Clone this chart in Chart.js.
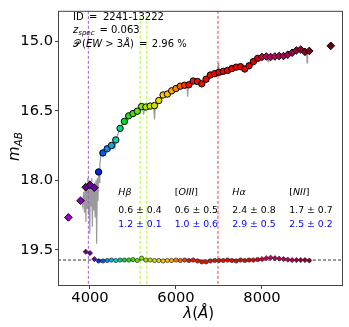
<!DOCTYPE html>
<html>
<head>
<meta charset="utf-8">
<script src="https://cdn.jsdelivr.net/npm/chart.js@4.4.0/dist/chart.umd.min.js"></script>
<style>
  html, body { margin: 0; padding: 0; background: #fff; }
</style>
</head>
<body>
<canvas id="chart" width="349" height="327"></canvas>
<script>
// photometry, wavelength (A) and AB magnitude
const lam = [3497, 3780, 3900, 4000, 4100, 4200, 4300, 4400, 4500, 4600,
  4700, 4800, 4900, 5000, 5100, 5200, 5300, 5400, 5500, 5600,
  5700, 5800, 5900, 6000, 6100, 6200, 6300, 6400, 6500, 6600,
  6700, 6800, 6900, 7000, 7100, 7200, 7300, 7400, 7500, 7600,
  7700, 7800, 7900, 8000, 8100, 8200, 8300, 8400, 8500, 8600,
  8700, 8800, 8900, 9000, 9100, 9600];
const mag = [18.80, 18.44, 18.15, 18.10, 18.16, 17.82, 17.41, 17.32, 17.25, 17.13,
  16.88, 16.73, 16.61, 16.56, 16.51, 16.41, 16.42, 16.40, 16.39, 16.28,
  16.16, 16.14, 16.07, 16.02, 15.97, 15.95, 15.94, 15.86, 15.87, 15.92,
  15.82, 15.73, 15.70, 15.67, 15.65, 15.63, 15.59, 15.56, 15.55, 15.60,
  15.53, 15.44, 15.37, 15.34, 15.33, 15.34, 15.33, 15.32, 15.32, 15.29,
  15.25, 15.20, 15.18, 15.23, 15.21, 15.10];

// lower row (continuum level)
const lamLow = [3900, 4000, 4100, 4200, 4300, 4400, 4500, 4600, 4700, 4800,
  4900, 5000, 5100, 5200, 5300, 5400, 5500, 5600, 5700, 5800,
  5900, 6000, 6100, 6200, 6300, 6400, 6500, 6600, 6700, 6800,
  6900, 7000, 7100, 7200, 7300, 7400, 7500, 7600, 7700, 7800,
  7900, 8000, 8100, 8200, 8300, 8400, 8500, 8600, 8700, 8800,
  8900, 9000, 9100];
const magLow = [19.54, 19.57, 19.70, 19.74, 19.74, 19.73, 19.72, 19.73, 19.72, 19.72,
  19.72, 19.71, 19.73, 19.68, 19.72, 19.72, 19.73, 19.73, 19.74, 19.73,
  19.73, 19.72, 19.73, 19.72, 19.73, 19.72, 19.74, 19.76, 19.76, 19.74,
  19.73, 19.73, 19.73, 19.72, 19.73, 19.74, 19.72, 19.73, 19.72, 19.72,
  19.71, 19.70, 19.68, 19.67, 19.68, 19.69, 19.70, 19.71, 19.72, 19.72,
  19.72, 19.72, 19.73];

// gray spectrum behind the points
const specLam = [3800, 3830, 3850, 3870, 3890, 3905, 3920, 3935, 3950, 3965,
  3980, 3995, 4010, 4025, 4040, 4055, 4070, 4085, 4100, 4120,
  4140, 4155, 4170, 4185, 4200, 4215, 4230, 4250, 4280, 4310,
  4350, 4400, 4450, 4500, 4550, 4580, 4610, 4650, 4700, 4750,
  4800, 4900, 5000, 5100, 5170, 5200, 5250, 5280, 5322, 5400,
  5480, 5500, 5520, 5600, 5700, 5800, 5900, 6000, 6100, 6200,
  6260, 6270, 6290, 6400, 6500, 6600, 6700, 6800, 6900, 6975,
  6985, 6995, 7100, 7200, 7300, 7400, 7500, 7600, 7700, 7800,
  7900, 8000, 8120, 8140, 8160, 8300, 8400, 8500, 8600, 8700,
  8800, 8900, 9000, 9040, 9050, 9060, 9100];
const specMag = [18.40, 18.55, 18.25, 18.70, 18.05, 18.90, 18.10, 18.60, 17.95, 18.75,
  18.00, 19.15, 18.05, 18.55, 17.95, 19.00, 18.10, 18.65, 18.05, 18.80,
  18.00, 19.37, 17.95, 18.45, 17.85, 18.05, 17.65, 17.48, 17.42, 17.38,
  17.36, 17.30, 17.30, 17.24, 17.22, 17.30, 17.10, 17.00, 16.88, 16.80,
  16.73, 16.62, 16.55, 16.50, 16.44, 16.42, 16.56, 16.43, 16.36, 16.41,
  16.40, 16.69, 16.40, 16.28, 16.17, 16.14, 16.07, 16.02, 15.98, 15.95,
  15.96, 16.20, 15.95, 15.87, 15.88, 15.91, 15.82, 15.74, 15.70, 15.66,
  15.47, 15.66, 15.65, 15.63, 15.59, 15.56, 15.56, 15.59, 15.53, 15.44,
  15.38, 15.34, 15.34, 15.44, 15.34, 15.33, 15.32, 15.32, 15.29, 15.25,
  15.20, 15.18, 15.22, 15.23, 15.47, 15.23, 15.21];

// redshifted emission lines: [OII], Hb, [OIII], Ha
const lineLam = [3962, 5167, 5322, 6976];
const lineColors = ['#9a5fd6', '#b4f53a', '#b4f53a', '#f23a3a'];
const baseMag = 19.72;

const xTicks = [4000, 6000, 8000];
const yTicks = [15.0, 16.5, 18.0, 19.5];
const xMin = 3256, xMax = 9884, yMin = 14.345, yMax = 20.28;

const lineNames = [['Hβ'], ['[', 'OIII', ']'], ['Hα'], ['[', 'NII', ']']];
const ewRow1 = ['0.6 ± 0.4', '0.6 ± 0.5', '2.4 ± 0.8', '1.7 ± 0.7'];
const ewRow2 = ['1.2 ± 0.1', '1.0 ± 0.6', '2.9 ± 0.5', '2.5 ± 0.2'];

// colour stops along wavelength
const cStops = [
  [3497, [160, 0, 210]], [3780, [135, 0, 200]], [3900, [100, 0, 140]],
  [4100, [105, 0, 175]], [4200, [0, 40, 230]], [4400, [0, 140, 240]],
  [4600, [0, 210, 200]], [4700, [0, 215, 140]], [4800, [0, 220, 40]],
  [5000, [60, 230, 0]], [5300, [170, 235, 0]], [5500, [215, 225, 0]],
  [5700, [255, 205, 0]], [5900, [255, 170, 0]], [6100, [255, 100, 0]],
  [6300, [240, 20, 0]], [7800, [225, 0, 0]], [8000, [205, 0, 60]],
  [8200, [190, 0, 105]], [8600, [175, 0, 85]], [9100, [130, 0, 25]],
  [9600, [105, 0, 15]]
];
function colorFor(l) {
  for (let i = 0; i < cStops.length - 1; i++) {
    const a = cStops[i], b = cStops[i + 1];
    if (l <= b[0]) {
      const t = Math.max(0, (l - a[0]) / (b[0] - a[0]));
      const c = a[1].map((v, k) => Math.round(v + (b[1][k] - v) * t));
      return 'rgb(' + c.join(',') + ')';
    }
  }
  return 'rgb(' + cStops[cStops.length - 1][1].join(',') + ')';
}
const shapeFor = l => (l < 4200 || l >= 8000) ? 'rectRot' : 'circle';

const vlines = lineLam.map((l, i) => ({
  data: [{x: l, y: yMin}, {x: l, y: yMax}],
  showLine: true, pointRadius: 0, borderColor: lineColors[i],
  borderWidth: 1, borderDash: [3, 2], order: 5
}));

const font = '"DejaVu Sans"';
function put(ctx, parts, x, y, color) {
  let cx = x;
  ctx.fillStyle = color || '#000';
  ctx.textBaseline = 'alphabetic';
  ctx.textAlign = 'left';
  parts.forEach(p => {
    ctx.font = (p.i ? 'italic ' : '') + p.s + 'px ' + font;
    ctx.fillText(p.t, cx, y + (p.dy || 0));
    cx += ctx.measureText(p.t).width;
  });
  return cx;
}

const decor = {
  id: 'decor',
  afterDraw(chart) {
    const ctx = chart.ctx, a = chart.chartArea;
    ctx.save();
    ctx.strokeStyle = '#444';
    ctx.lineWidth = 1;
    ctx.strokeRect(a.left + 0.5, a.top + 0.5, a.right - a.left - 1, a.bottom - a.top - 1);

    // info text
    put(ctx, [{t: 'ID', s: 10}], 73, 20);
    put(ctx, [{t: '=', s: 10}], 89, 20);
    put(ctx, [{t: '2241-13222', s: 10}], 103, 20);
    put(ctx, [{t: 'z', s: 10, i: 1}, {t: 'spec', s: 7, i: 1, dy: 1.5}], 73, 33);
    put(ctx, [{t: '=', s: 10}], 99.5, 33);
    put(ctx, [{t: '0.063', s: 10}], 111, 33);
    put(ctx, [{t: '𝒫', s: 10}], 73, 46.5);
    let ex = put(ctx, [{t: '(', s: 10}, {t: 'EW', s: 10, i: 1}, {t: ' > 3', s: 10}, {t: 'Å', s: 10, i: 1}, {t: ')', s: 10}], 82, 46.5);
    ex = put(ctx, [{t: '=', s: 10}], ex + 5, 46.5);
    ex = put(ctx, [{t: '2.96', s: 10}], ex + 4.5, 46.5);
    put(ctx, [{t: '%', s: 10}], ex + 3.2, 46.5);

    // equivalent width table
    const colX = [118.3, 174.7, 232.3, 289.3];
    lineNames.forEach((n, i) => {
      const parts = n.map(t => ({t: t, s: 9.5, i: (t !== '[' && t !== ']')}));
      put(ctx, parts, colX[i], 195);
      put(ctx, [{t: ewRow1[i], s: 9.3}], colX[i], 213.3, '#000');
      put(ctx, [{t: ewRow2[i], s: 9.3}], colX[i], 227.3, '#0000ff');
    });

    // axis titles
    put(ctx, [{t: 'λ', s: 15, i: 1}, {t: '(', s: 15}, {t: 'Å', s: 15, i: 1}, {t: ')', s: 15}], 183.3, 318);
    ctx.translate(19, 161);
    ctx.rotate(-Math.PI / 2);
    put(ctx, [{t: 'm', s: 15, i: 1}, {t: 'AB', s: 10.5, i: 1, dy: 3}], 0, 0);
    ctx.restore();
  }
};

new Chart(document.getElementById('chart').getContext('2d'), {
  type: 'scatter',
  data: {
    datasets: [
      {
        data: lam.map((l, i) => ({x: l, y: mag[i]})),
        pointStyle: lam.map(shapeFor),
        pointRadius: lam.map(l => shapeFor(l) === 'circle' ? 3.2 : 3.8),
        backgroundColor: lam.map(colorFor),
        borderColor: '#000', borderWidth: 1, order: 1
      },
      {
        data: lamLow.map((l, i) => ({x: l, y: magLow[i]})),
        pointStyle: lamLow.map(shapeFor),
        pointRadius: lamLow.map(l => shapeFor(l) === 'circle' ? 2.1 : 2.6),
        backgroundColor: lamLow.map(colorFor),
        borderColor: '#222', borderWidth: 0.7, order: 2
      },
      {
        data: [{x: xMin, y: baseMag}, {x: xMax, y: baseMag}],
        showLine: true, pointRadius: 0, borderColor: '#333',
        borderWidth: 1, borderDash: [3, 2], order: 4
      },
      {
        data: specLam.map((l, i) => ({x: l, y: specMag[i]})),
        showLine: true, pointRadius: 0, borderColor: '#9a9a9a',
        borderWidth: 1.2, order: 6
      },
      ...vlines
    ]
  },
  options: {
    responsive: false,
    animation: false,
    devicePixelRatio: 1,
    layout: { padding: { top: 5, right: 6, left: 0, bottom: 0 }, autoPadding: false },
    plugins: { legend: { display: false }, tooltip: { enabled: false } },
    scales: {
      x: {
        type: 'linear', min: xMin, max: xMax,
        afterFit: s => { s.height = 41; },
        afterBuildTicks: s => { s.ticks = xTicks.map(v => ({value: v})); },
        grid: { drawOnChartArea: false, drawTicks: true, tickLength: 3, color: '#444' },
        border: { display: false },
        ticks: { color: '#000', padding: 0, maxRotation: 0, font: { family: 'DejaVu Sans', size: 14.7 },
          callback: v => String(v) }
      },
      y: {
        type: 'linear', min: yMin, max: yMax, reverse: true,
        afterFit: s => { s.width = 58; },
        afterBuildTicks: s => { s.ticks = yTicks.map(v => ({value: v})); },
        grid: { drawOnChartArea: false, drawTicks: true, tickLength: 3, color: '#444' },
        border: { display: false },
        ticks: { color: '#000', padding: 2, font: { family: 'DejaVu Sans', size: 14.7 },
          callback: v => v.toFixed(1) }
      }
    }
  },
  plugins: [decor]
});
</script>
</body>
</html>
